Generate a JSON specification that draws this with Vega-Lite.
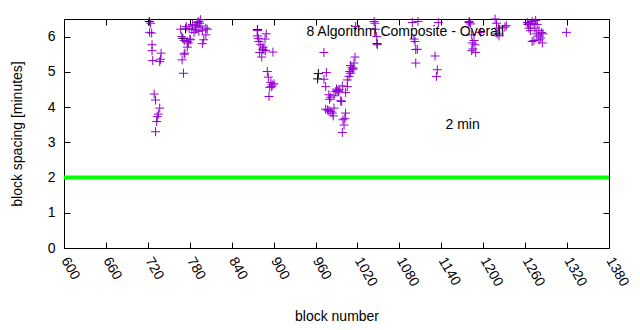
{
  "$schema": "https://vega.github.io/schema/vega-lite/v6.json",
  "width": 545,
  "height": 229,
  "autosize": {"type": "none"},
  "padding": {"left": 64, "top": 19, "right": 31, "bottom": 82},
  "background": "white",
  "config": {
    "view": {"stroke": "black", "strokeWidth": 1},
    "font": "Liberation Sans",
    "axis": {
      "grid": false,
      "domain": false,
      "tickColor": "black",
      "tickSize": -6,
      "labelColor": "black",
      "labelFontSize": 14,
      "titleFontSize": 14,
      "titleFontWeight": "normal",
      "titleColor": "black",
      "labelOverlap": false,
      "labelFlush": false
    }
  },
  "resolve": {"axis": {"x": "independent", "y": "independent"}},
  "datasets": {
    "purple": [
      {"block": 724, "spacing": 6.38}, {"block": 722.6, "spacing": 6.12}, {"block": 725.5, "spacing": 6.1},
      {"block": 726, "spacing": 5.77}, {"block": 726, "spacing": 5.6}, {"block": 739, "spacing": 5.53},
      {"block": 727, "spacing": 5.32}, {"block": 737, "spacing": 5.29}, {"block": 738, "spacing": 5.36},
      {"block": 729, "spacing": 4.37}, {"block": 731, "spacing": 4.2}, {"block": 737, "spacing": 3.97},
      {"block": 735, "spacing": 3.8}, {"block": 733.5, "spacing": 3.73}, {"block": 732.6, "spacing": 3.59},
      {"block": 731, "spacing": 3.3},
      {"block": 767, "spacing": 6.21}, {"block": 775, "spacing": 6.29}, {"block": 779, "spacing": 6.24},
      {"block": 784, "spacing": 6.34}, {"block": 787.5, "spacing": 6.31}, {"block": 791, "spacing": 6.4},
      {"block": 793, "spacing": 6.43}, {"block": 795.6, "spacing": 6.48}, {"block": 794, "spacing": 6.38},
      {"block": 788.5, "spacing": 6.19}, {"block": 786, "spacing": 6.12}, {"block": 793, "spacing": 6.15},
      {"block": 798, "spacing": 6.18}, {"block": 803, "spacing": 6.24}, {"block": 805, "spacing": 6.21},
      {"block": 803, "spacing": 6.05}, {"block": 800, "spacing": 5.91}, {"block": 798, "spacing": 5.8},
      {"block": 768.5, "spacing": 6.0}, {"block": 772, "spacing": 5.89}, {"block": 776.5, "spacing": 5.86},
      {"block": 781, "spacing": 5.91}, {"block": 780, "spacing": 5.93}, {"block": 778, "spacing": 5.82},
      {"block": 776.5, "spacing": 5.7}, {"block": 773, "spacing": 5.53}, {"block": 772, "spacing": 5.5},
      {"block": 769, "spacing": 5.34}, {"block": 771, "spacing": 4.96}, {"block": 783, "spacing": 6.2},
      {"block": 790, "spacing": 6.27}, {"block": 796, "spacing": 6.3},
      {"block": 876.7, "spacing": 6.17}, {"block": 876.7, "spacing": 6.02}, {"block": 889.5, "spacing": 6.08},
      {"block": 887.7, "spacing": 5.93}, {"block": 879, "spacing": 5.86}, {"block": 881.5, "spacing": 5.77},
      {"block": 884, "spacing": 5.64}, {"block": 886.3, "spacing": 5.62}, {"block": 888.7, "spacing": 5.6},
      {"block": 880, "spacing": 5.55}, {"block": 899, "spacing": 5.56}, {"block": 883, "spacing": 5.42},
      {"block": 891, "spacing": 5.01}, {"block": 892.4, "spacing": 4.85}, {"block": 896, "spacing": 4.7},
      {"block": 898, "spacing": 4.63}, {"block": 900.6, "spacing": 4.66}, {"block": 894.4, "spacing": 4.56},
      {"block": 897.3, "spacing": 4.58}, {"block": 893.4, "spacing": 4.3}, {"block": 878, "spacing": 5.95},
      {"block": 885, "spacing": 5.7},
      {"block": 972, "spacing": 5.55}, {"block": 975.5, "spacing": 4.98}, {"block": 972, "spacing": 4.79},
      {"block": 974.5, "spacing": 4.58}, {"block": 979, "spacing": 4.35}, {"block": 981.7, "spacing": 4.28},
      {"block": 980, "spacing": 4.22}, {"block": 986.4, "spacing": 4.32}, {"block": 990, "spacing": 4.51},
      {"block": 991, "spacing": 4.47}, {"block": 993, "spacing": 4.44}, {"block": 994.7, "spacing": 4.49},
      {"block": 988.8, "spacing": 4.44}, {"block": 998.3, "spacing": 4.6}, {"block": 996, "spacing": 4.18},
      {"block": 997.4, "spacing": 4.16}, {"block": 1003, "spacing": 4.41}, {"block": 1005.5, "spacing": 4.58},
      {"block": 974.5, "spacing": 3.94}, {"block": 977, "spacing": 3.92}, {"block": 979, "spacing": 3.9},
      {"block": 981.7, "spacing": 3.87}, {"block": 984, "spacing": 3.83}, {"block": 985.4, "spacing": 3.75},
      {"block": 1003, "spacing": 3.83}, {"block": 1002, "spacing": 3.68}, {"block": 999.3, "spacing": 3.64},
      {"block": 1000.8, "spacing": 3.49}, {"block": 998.3, "spacing": 3.28}, {"block": 986.4, "spacing": 3.97},
      {"block": 1008, "spacing": 4.87}, {"block": 1010.3, "spacing": 4.96}, {"block": 1012.6, "spacing": 5.06},
      {"block": 1009, "spacing": 5.01}, {"block": 1012, "spacing": 5.13}, {"block": 1015, "spacing": 5.25},
      {"block": 1016.5, "spacing": 5.42}, {"block": 1005.5, "spacing": 4.77}, {"block": 1017.5, "spacing": 6.29},
      {"block": 1014, "spacing": 5.1}, {"block": 1010, "spacing": 5.18},
      {"block": 1043.7, "spacing": 6.43}, {"block": 1045, "spacing": 6.38}, {"block": 1046, "spacing": 6.21},
      {"block": 1047.6, "spacing": 6.0}, {"block": 1048.4, "spacing": 5.77},
      {"block": 1098.5, "spacing": 6.4}, {"block": 1101, "spacing": 5.93}, {"block": 1102.4, "spacing": 5.86},
      {"block": 1103.4, "spacing": 5.63}, {"block": 1105.7, "spacing": 5.64}, {"block": 1103.4, "spacing": 5.25},
      {"block": 1106.6, "spacing": 6.43},
      {"block": 1135.8, "spacing": 6.4}, {"block": 1131, "spacing": 5.45}, {"block": 1134.3, "spacing": 5.06},
      {"block": 1133, "spacing": 4.87},
      {"block": 1179.6, "spacing": 6.4}, {"block": 1182, "spacing": 6.36}, {"block": 1183.5, "spacing": 6.05},
      {"block": 1196.4, "spacing": 6.12}, {"block": 1186.8, "spacing": 5.89}, {"block": 1184.4, "spacing": 5.82},
      {"block": 1188.2, "spacing": 5.77}, {"block": 1185.4, "spacing": 5.65}, {"block": 1189.2, "spacing": 5.55},
      {"block": 1183.5, "spacing": 5.6},
      {"block": 1217, "spacing": 6.5}, {"block": 1219, "spacing": 6.38}, {"block": 1221.6, "spacing": 6.24},
      {"block": 1220, "spacing": 6.08}, {"block": 1222.6, "spacing": 6.02}, {"block": 1231, "spacing": 6.27},
      {"block": 1233, "spacing": 6.31},
      {"block": 1263, "spacing": 6.4}, {"block": 1265.4, "spacing": 6.34}, {"block": 1267.8, "spacing": 6.36},
      {"block": 1270, "spacing": 6.43}, {"block": 1272.6, "spacing": 6.38}, {"block": 1275, "spacing": 6.46},
      {"block": 1277.3, "spacing": 6.34}, {"block": 1274, "spacing": 6.24}, {"block": 1265.4, "spacing": 6.24},
      {"block": 1267.8, "spacing": 6.17}, {"block": 1279.8, "spacing": 6.17}, {"block": 1283.6, "spacing": 6.12},
      {"block": 1285.5, "spacing": 6.08}, {"block": 1278.8, "spacing": 6.02}, {"block": 1282.2, "spacing": 5.96},
      {"block": 1272.6, "spacing": 5.89}, {"block": 1270, "spacing": 5.86}, {"block": 1284.6, "spacing": 5.82},
      {"block": 1279.8, "spacing": 5.91}, {"block": 1276, "spacing": 6.08},
      {"block": 1319, "spacing": 6.12}
    ],
    "black": [
      {"block": 722, "spacing": 6.43}, {"block": 774, "spacing": 6.22}, {"block": 770, "spacing": 5.95},
      {"block": 963, "spacing": 4.8}, {"block": 964, "spacing": 4.95}, {"block": 1048, "spacing": 5.8},
      {"block": 1264, "spacing": 6.35}, {"block": 1180, "spacing": 6.42}, {"block": 877, "spacing": 6.2}
    ],
    "line": [{"block": 600, "spacing": 2}, {"block": 1380, "spacing": 2}],
    "labels": [
      {"block": 947, "spacing": 6.14, "label": "8 Algorithm Composite - Overall"},
      {"block": 1146, "spacing": 3.5, "label": "2 min"}
    ]
  },
  "layer": [
    {
      "data": {"name": "line"},
      "mark": {"type": "line", "color": "#00ff00", "strokeWidth": 4},
      "encoding": {
        "x": {"field": "block", "type": "quantitative", "scale": {"domain": [600, 1380], "nice": false, "zero": false},
          "axis": {"title": "block number", "format": "d", "values": [600,660,720,780,840,900,960,1020,1080,1140,1200,1260,1320,1380],
            "labelAngle": 60, "labelAlign": "left", "labelBaseline": "middle", "labelPadding": 16, "titleY": 61}},
        "y": {"field": "spacing", "type": "quantitative", "scale": {"domain": [0, 6.5], "nice": false},
          "axis": {"title": "block spacing [minutes]", "values": [0,1,2,3,4,5,6], "labelPadding": 15, "titleX": -40}}
      }
    },
    {
      "data": {"name": "line"},
      "mark": {"type": "point", "opacity": 0},
      "encoding": {
        "x": {"field": "block", "type": "quantitative",
          "axis": {"orient": "top", "title": null, "labels": false, "values": [600,660,720,780,840,900,960,1020,1080,1140,1200,1260,1320,1380]}},
        "y": {"field": "spacing", "type": "quantitative",
          "axis": {"orient": "right", "title": null, "labels": false, "values": [0,1,2,3,4,5,6]}}
      }
    },
    {
      "data": {"name": "black"},
      "mark": {"type": "point", "shape": "M-1,0H1M0,-1V1", "filled": false, "stroke": "black", "strokeWidth": 1, "size": 81, "opacity": 1},
      "encoding": {
        "x": {"field": "block", "type": "quantitative", "axis": null},
        "y": {"field": "spacing", "type": "quantitative", "axis": null}
      }
    },
    {
      "data": {"name": "purple"},
      "mark": {"type": "point", "shape": "M-1,0H1M0,-1V1", "filled": false, "stroke": "#9400d3", "strokeWidth": 1, "size": 81, "opacity": 1},
      "encoding": {
        "x": {"field": "block", "type": "quantitative", "axis": null},
        "y": {"field": "spacing", "type": "quantitative", "axis": null}
      }
    },
    {
      "data": {"name": "labels"},
      "mark": {"type": "text", "align": "left", "baseline": "middle", "fontSize": 14, "color": "black"},
      "encoding": {
        "x": {"field": "block", "type": "quantitative", "axis": null},
        "y": {"field": "spacing", "type": "quantitative", "axis": null},
        "text": {"field": "label"}
      }
    }
  ]
}
